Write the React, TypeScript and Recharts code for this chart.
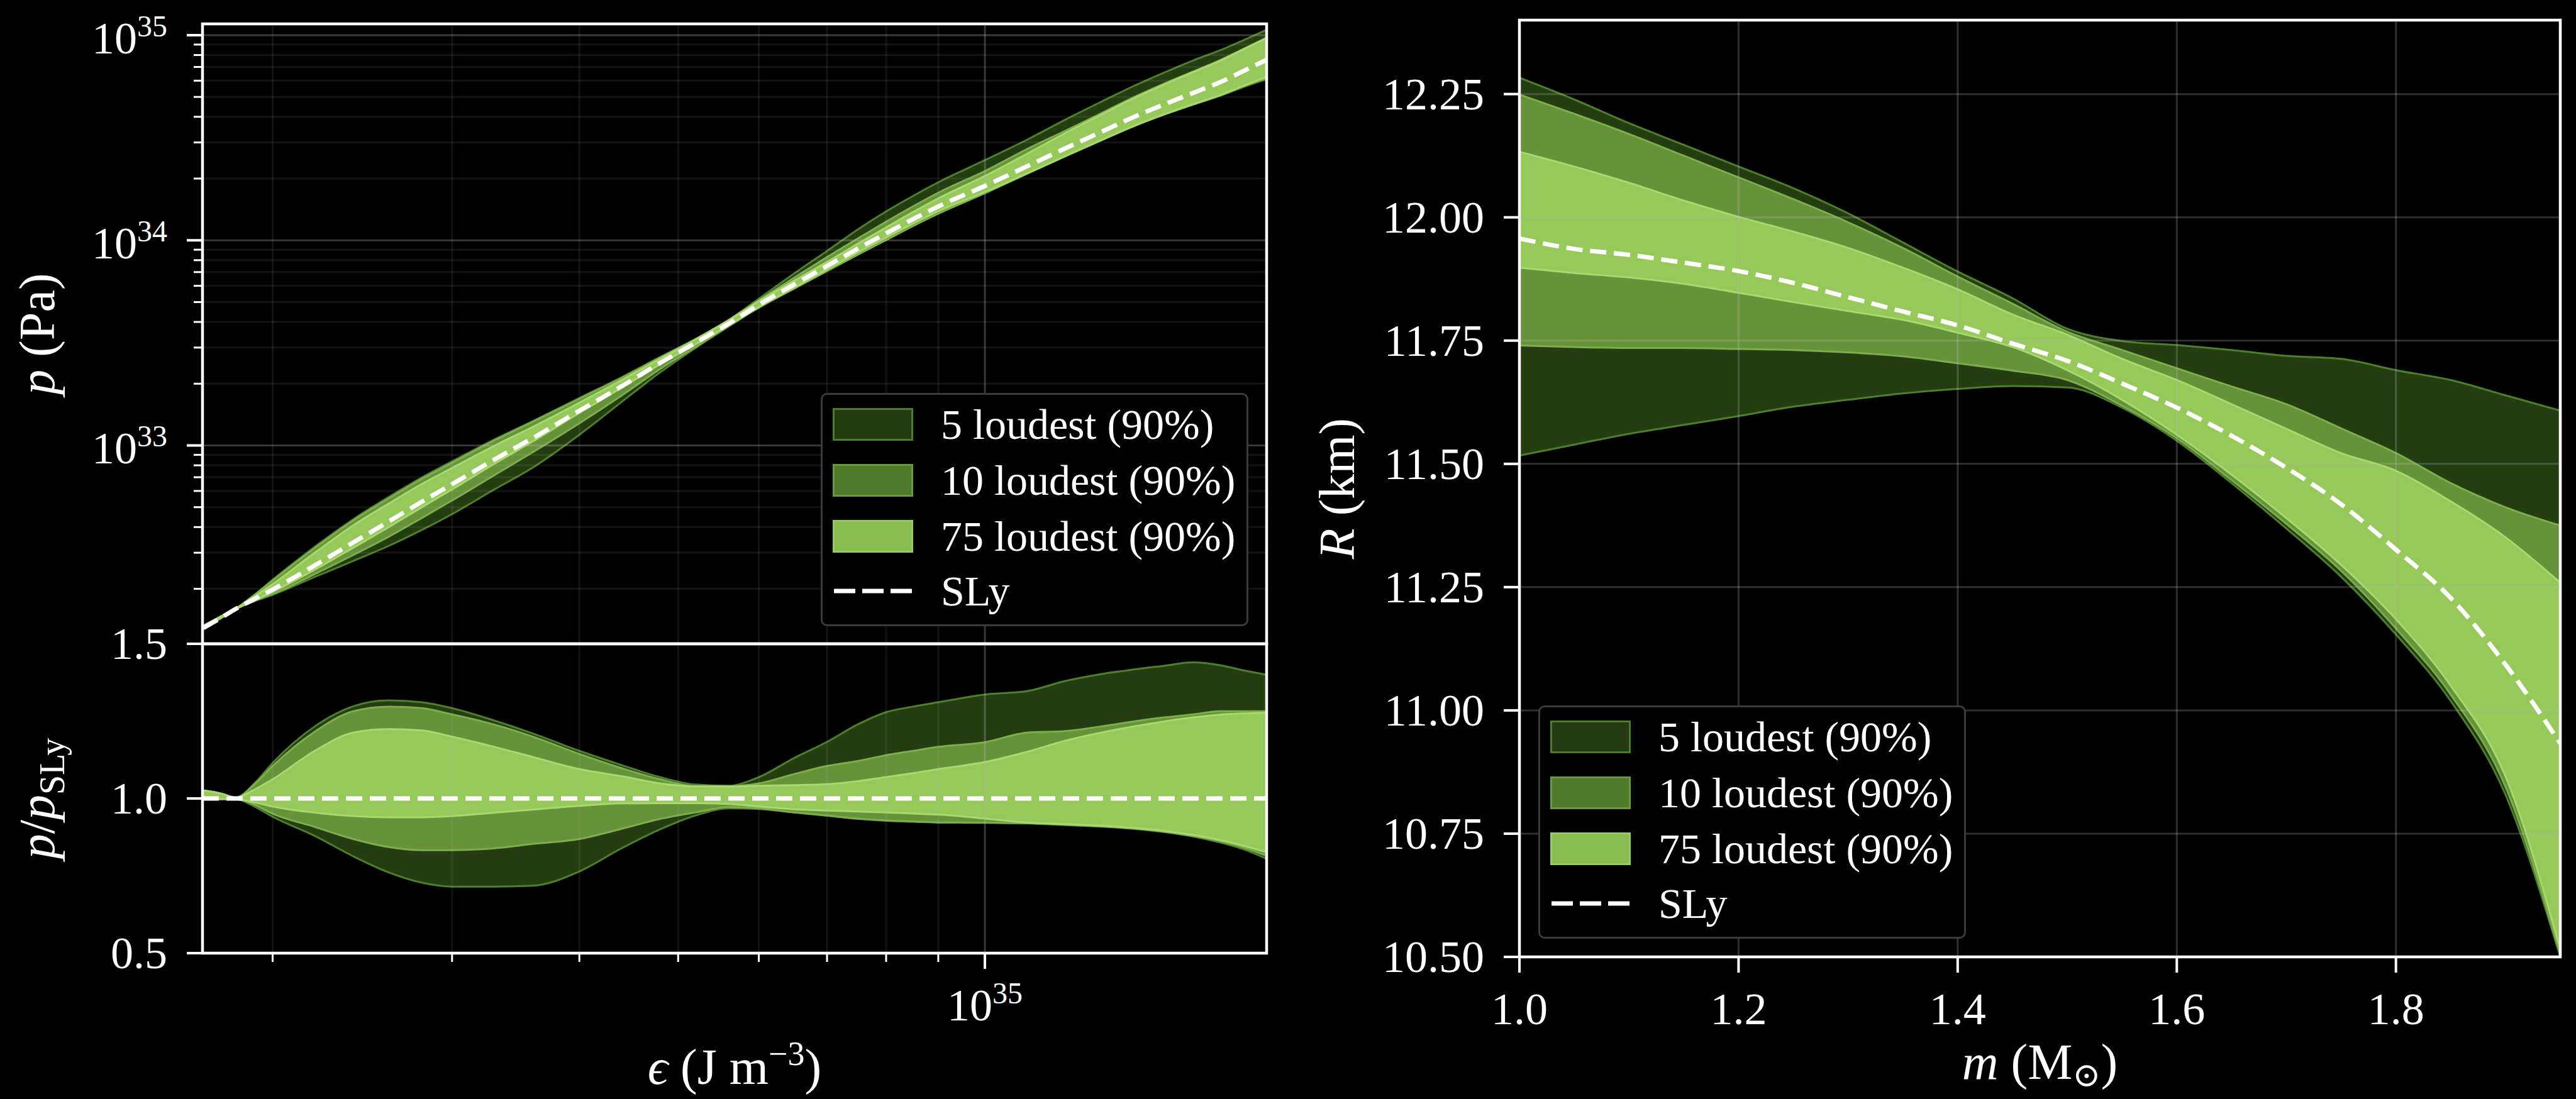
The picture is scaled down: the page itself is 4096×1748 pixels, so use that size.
import React from 'react';
import { ComposedChart, Area, Line, XAxis, YAxis, ReferenceLine, ReferenceArea, Label } from 'recharts';

// ---------- fonts / colours ----------
const FONT = "'Liberation Serif', 'DejaVu Serif', serif";
const BAND5 = { fill: '#243d11', stroke: '#4e7f2a' };
const BAND10 = { fill: '#66923a', stroke: '#7cae4c' };
const BAND75 = { fill: '#97c85a', stroke: '#a8d86e' };
const GRID = '#bbbbbb';

// ---------- EOS panel data (epsilon in units of 1e34 J m^-3) ----------
const epsilon = [1.71, 1.78, 1.84, 1.92, 2.0, 2.2, 2.4, 2.6, 2.8, 3.0, 3.3, 3.6, 4.0, 4.4, 4.8, 5.2, 5.6,
  6.0, 6.5, 7.0, 7.5, 8.0, 8.5, 9.0, 10, 11, 12, 13, 14, 15, 16, 17, 18, 18.9];

// SLy pressure (Pa)
const pSly = [1.288e32, 1.445e32, 1.596e32, 1.786e32, 1.986e32, 2.6e32, 3.365e32, 4.256e32, 5.309e32, 6.471e32,
  8.531e32, 1.086e33, 1.476e33, 1.941e33, 2.523e33, 3.162e33, 3.917e33, 4.853e33, 6.095e33, 7.499e33,
  9.099e33, 1.081e34, 1.268e34, 1.462e34, 1.841e34, 2.296e34, 2.812e34, 3.373e34, 3.99e34, 4.603e34,
  5.224e34, 5.888e34, 6.745e34, 7.586e34];

// p / p_SLy, 90% bounds
const ratioHi5 = [1.026, 1.016, 1.003, 1.049, 1.115, 1.233, 1.298, 1.317, 1.311, 1.292, 1.252, 1.21, 1.154, 1.108,
  1.069, 1.045, 1.041, 1.069, 1.131, 1.183, 1.239, 1.279, 1.297, 1.311, 1.336, 1.347, 1.38, 1.402, 1.417, 1.429,
  1.44, 1.431, 1.413, 1.4];
const ratioLo5 = [1.0, 0.998, 0.998, 0.974, 0.941, 0.879, 0.813, 0.761, 0.728, 0.715, 0.715, 0.718, 0.764, 0.839,
  0.9, 0.945, 0.968, 0.966, 0.955, 0.944, 0.934, 0.928, 0.925, 0.922, 0.921, 0.919, 0.914, 0.909, 0.902, 0.891,
  0.877, 0.858, 0.834, 0.805];
const ratioHi10 = [1.026, 1.016, 1.003, 1.046, 1.105, 1.216, 1.282, 1.297, 1.292, 1.272, 1.239, 1.2, 1.144, 1.098,
  1.062, 1.04, 1.04, 1.049, 1.079, 1.105, 1.121, 1.14, 1.154, 1.167, 1.182, 1.213, 1.218, 1.233, 1.249, 1.262,
  1.272, 1.282, 1.282, 1.282];
const ratioLo10 = [1.0, 0.998, 0.998, 0.98, 0.951, 0.908, 0.869, 0.843, 0.833, 0.833, 0.839, 0.853, 0.869, 0.902,
  0.934, 0.955, 0.972, 0.968, 0.955, 0.945, 0.935, 0.929, 0.926, 0.923, 0.922, 0.92, 0.915, 0.91, 0.903, 0.893,
  0.879, 0.862, 0.84, 0.815];
const ratioHi75 = [1.026, 1.016, 1.003, 1.029, 1.062, 1.154, 1.213, 1.224, 1.22, 1.2, 1.167, 1.134, 1.095, 1.072,
  1.049, 1.039, 1.038, 1.041, 1.043, 1.046, 1.056, 1.069, 1.082, 1.095, 1.118, 1.151, 1.187, 1.213, 1.233, 1.249,
  1.262, 1.271, 1.275, 1.277];
const ratioLo75 = [1.0, 0.998, 0.998, 0.987, 0.974, 0.954, 0.943, 0.939, 0.939, 0.943, 0.954, 0.964, 0.976, 0.984,
  0.985, 0.985, 0.982, 0.974, 0.965, 0.961, 0.958, 0.955, 0.951, 0.948, 0.935, 0.922, 0.917, 0.912, 0.905, 0.895,
  0.882, 0.866, 0.846, 0.826];

// ---------- mass-radius panel data ----------
const mass = [1.0, 1.05, 1.1, 1.15, 1.2, 1.25, 1.3, 1.35, 1.4, 1.45, 1.5, 1.55, 1.6, 1.65, 1.7, 1.75, 1.8, 1.85, 1.9, 1.95];
const radiusSly = [11.957, 11.936, 11.924, 11.908, 11.891, 11.867, 11.838, 11.809, 11.781, 11.744, 11.709, 11.663,
  11.614, 11.557, 11.492, 11.418, 11.326, 11.228, 11.093, 10.933];
const radiusHi5 = [12.283, 12.239, 12.191, 12.147, 12.103, 12.059, 12.008, 11.949, 11.89, 11.836, 11.774, 11.749,
  11.741, 11.731, 11.719, 11.713, 11.69, 11.67, 11.639, 11.608];
const radiusLo5 = [11.517, 11.539, 11.561, 11.579, 11.597, 11.616, 11.63, 11.643, 11.652, 11.658, 11.655, 11.614,
  11.547, 11.461, 11.369, 11.271, 11.154, 11.019, 10.829, 10.5];
const radiusHi10 = [12.249, 12.21, 12.169, 12.125, 12.081, 12.037, 11.99, 11.938, 11.88, 11.825, 11.768, 11.731,
  11.694, 11.657, 11.621, 11.572, 11.522, 11.461, 11.412, 11.375];
const radiusLo10 = [11.74, 11.737, 11.735, 11.735, 11.733, 11.731, 11.726, 11.718, 11.704, 11.689, 11.67, 11.618,
  11.552, 11.467, 11.378, 11.283, 11.166, 11.032, 10.845, 10.505];
const radiusHi75 = [12.133, 12.103, 12.07, 12.034, 12.001, 11.971, 11.938, 11.898, 11.854, 11.803, 11.762, 11.713,
  11.67, 11.621, 11.571, 11.522, 11.486, 11.424, 11.351, 11.259];
const radiusLo75 = [11.898, 11.887, 11.878, 11.865, 11.847, 11.828, 11.81, 11.792, 11.766, 11.737, 11.69, 11.63,
  11.559, 11.478, 11.39, 11.295, 11.185, 11.05, 10.866, 10.516];

// ---------- ticks ----------
const pDecades = [32, 33, 34];
const mantissas = [1, 2, 3, 4, 5, 6, 7, 8, 9];
const pTicks = [...pDecades.flatMap((d) => mantissas.map((m) => m * Math.pow(10, d))), 1e35].filter((v) => v > 1.1e32);
const epsTicks = [...mantissas.slice(1).map((m) => m * 1e34), 1e35];
const ratioTicks = [0.5, 1.0, 1.5];
const massTicks = [1.0, 1.2, 1.4, 1.6, 1.8];
const radiusTicks = [10.5, 10.75, 11.0, 11.25, 11.5, 11.75, 12.0, 12.25];

const EPS_DOMAIN: [number, number] = [1.707e34, 1.89e35];
const P_DOMAIN: [number, number] = [1.079e32, 1.135e35];

const legendLabels = ['5 loudest (90%)', '10 loudest (90%)', '75 loudest (90%)', 'SLy'];

// ---------- derived tables ----------
const ratioData = epsilon.map((e, i) => ({
  eps: e * 1e34,
  b5: [ratioLo5[i], ratioHi5[i]],
  b10: [ratioLo10[i], ratioHi10[i]],
  b75: [ratioLo75[i], ratioHi75[i]],
}));

const pressureData = epsilon.map((e, i) => ({
  eps: e * 1e34,
  b5: [pSly[i] * ratioLo5[i], pSly[i] * ratioHi5[i]],
  b10: [pSly[i] * ratioLo10[i], pSly[i] * ratioHi10[i]],
  b75: [pSly[i] * ratioLo75[i], pSly[i] * ratioHi75[i]],
  sly: pSly[i],
}));

const mrData = mass.map((m, i) => ({
  m,
  b5: [radiusLo5[i], radiusHi5[i]],
  b10: [radiusLo10[i], radiusHi10[i]],
  b75: [radiusLo75[i], radiusHi75[i]],
  sly: radiusSly[i],
}));

const isDecade = (v: number) => {
  const e = Math.round(Math.log10(v));
  return Math.abs(v / Math.pow(10, e) - 1) < 1e-6;
};

// ---------- tick renderers ----------
const PressureTick = (props: any) => {
  const { x, y, payload } = props;
  const major = isDecade(payload.value);
  const exp = Math.round(Math.log10(payload.value));
  return (
    <g>
      <line x1={x} x2={x - (major ? 25 : 14)} y1={y} y2={y} stroke="#fff" strokeWidth={major ? 4 : 3} />
      {major && (
        <text x={x - 56} y={y + 29} textAnchor="end" fill="#fff" fontFamily={FONT} fontSize={72}>
          10<tspan dy={-27} fontSize={48}>{exp}</tspan>
        </text>
      )}
    </g>
  );
};

const EpsTick = (props: any) => {
  const { x, y, payload } = props;
  const major = isDecade(payload.value);
  const exp = Math.round(Math.log10(payload.value));
  return (
    <g>
      <line x1={x} x2={x} y1={y} y2={y + (major ? 25 : 14)} stroke="#fff" strokeWidth={major ? 4 : 3} />
      {major && (
        <text x={x} y={y + 107} textAnchor="middle" fill="#fff" fontFamily={FONT} fontSize={72}>
          10<tspan dy={-27} fontSize={48}>{exp}</tspan>
        </text>
      )}
    </g>
  );
};

const makeYTick = (digits: number) => (props: any) => {
  const { x, y, payload } = props;
  return (
    <g>
      <line x1={x} x2={x - 25} y1={y} y2={y} stroke="#fff" strokeWidth={4} />
      <text x={x - 56} y={y + 24} textAnchor="end" fill="#fff" fontFamily={FONT} fontSize={72}>
        {Number(payload.value).toFixed(digits)}
      </text>
    </g>
  );
};

const MassTick = (props: any) => {
  const { x, y, payload } = props;
  return (
    <g>
      <line x1={x} x2={x} y1={y} y2={y + 25} stroke="#fff" strokeWidth={4} />
      <text x={x} y={y + 107} textAnchor="middle" fill="#fff" fontFamily={FONT} fontSize={72}>
        {Number(payload.value).toFixed(1)}
      </text>
    </g>
  );
};

// ---------- axis titles ----------
const yTitle = (bx: number, children: React.ReactNode) => (props: any) => {
  const vb = props.viewBox || {};
  const cy = vb.y + vb.height / 2;
  return (
    <text transform={`translate(${bx},${cy}) rotate(-90)`} textAnchor="middle" fill="#fff" fontFamily={FONT} fontSize={80}>
      {children}
    </text>
  );
};

const xTitle = (by: number, children: React.ReactNode) => (props: any) => {
  const vb = props.viewBox || {};
  const cx = vb.x + vb.width / 2;
  return (
    <text x={cx} y={by} textAnchor="middle" fill="#fff" fontFamily={FONT} fontSize={80}>
      {children}
    </text>
  );
};

// ---------- legend ----------
const legendSwatches = [
  { fill: '#243b12', stroke: '#4b7c26' },
  { fill: '#4f7a2c', stroke: '#6a9a3e' },
  { fill: '#88bb50', stroke: '#98ca60' },
];
const legendRows = [47, 136, 225, 312];

const BandLegend = ({ left, top }: { left: number; top: number }) => (
  <div
    style={{
      position: 'absolute', left, top, width: 680, height: 371, boxSizing: 'border-box',
      border: '3.5px solid #3a3a3a', borderRadius: 10, background: '#000',
    }}
  >
    {legendLabels.map((label, i) => (
      <div key={label} style={{ position: 'absolute', left: 0, top: legendRows[i] - 35, height: 70, width: '100%' }}>
        <svg style={{ position: 'absolute', left: 16, top: 9 }} width={130} height={52}>
          {i < 3 ? (
            <rect x={1.5} y={1.5} width={125} height={49} fill={legendSwatches[i].fill} stroke={legendSwatches[i].stroke} strokeWidth={3} />
          ) : (
            <line x1={2} x2={128} y1={26} y2={26} stroke="#fff" strokeWidth={7} strokeDasharray="34 11" />
          )}
        </svg>
        <span
          style={{
            position: 'absolute', left: 188, top: 0, lineHeight: '70px', fontSize: 68,
            fontFamily: FONT, color: '#fff', whiteSpace: 'nowrap',
          }}
        >
          {label}
        </span>
      </div>
    ))}
  </div>
);

const bandAreas = () => [
  <Area key="b5" dataKey="b5" type="monotone" fill={BAND5.fill} fillOpacity={1} stroke={BAND5.stroke} strokeWidth={3} dot={false} activeDot={false} isAnimationActive={false} />,
  <Area key="b10" dataKey="b10" type="monotone" fill={BAND10.fill} fillOpacity={1} stroke={BAND10.stroke} strokeWidth={3} dot={false} activeDot={false} isAnimationActive={false} />,
  <Area key="b75" dataKey="b75" type="monotone" fill={BAND75.fill} fillOpacity={1} stroke={BAND75.stroke} strokeWidth={3} dot={false} activeDot={false} isAnimationActive={false} />,
];

export default function App() {
  return (
    <div style={{ position: 'absolute', left: 0, top: 0, width: 4096, height: 1748, background: '#000', overflow: 'hidden' }}>
      {/* pressure vs energy density */}
      <div style={{ position: 'absolute', left: 0, top: 0 }}>
        <ComposedChart width={2060} height={1030} data={pressureData} margin={{ top: 38, right: 46, bottom: 6, left: 0 }}>
          <XAxis dataKey="eps" type="number" scale="log" domain={EPS_DOMAIN} allowDataOverflow hide height={0} />
          <YAxis
            type="number" scale="log" domain={P_DOMAIN} allowDataOverflow ticks={pTicks} interval={0}
            tick={PressureTick} tickSize={0} tickMargin={0} axisLine={false} width={322}
          >
            <Label content={yTitle(86, <><tspan fontStyle="italic">p</tspan> (Pa)</>)} />
          </YAxis>
          {bandAreas()}
          {pTicks.map((v) => (
            <ReferenceLine key={`py${v}`} y={v} stroke={GRID} strokeOpacity={isDecade(v) ? 0.3 : 0.1} strokeWidth={3} />
          ))}
          {epsTicks.map((v) => (
            <ReferenceLine key={`px${v}`} x={v} stroke={GRID} strokeOpacity={isDecade(v) ? 0.3 : 0.1} strokeWidth={3} />
          ))}
          <Line dataKey="sly" type="monotone" stroke="#fff" strokeWidth={7} strokeDasharray="26 12" dot={false} activeDot={false} isAnimationActive={false} />
          <ReferenceArea x1={EPS_DOMAIN[0]} x2={EPS_DOMAIN[1]} y1={P_DOMAIN[0]} y2={P_DOMAIN[1]} fill="none" stroke="#fff" strokeWidth={4.5} fillOpacity={0} />
        </ComposedChart>
      </div>

      {/* ratio to SLy */}
      <div style={{ position: 'absolute', left: 0, top: 950 }}>
        <ComposedChart width={2060} height={798} data={ratioData} margin={{ top: 74, right: 46, bottom: 0, left: 0 }}>
          <XAxis
            dataKey="eps" type="number" scale="log" domain={EPS_DOMAIN} allowDataOverflow ticks={epsTicks} interval={0}
            tick={EpsTick} tickSize={0} tickMargin={0} axisLine={false} height={232}
          >
            <Label content={xTitle(774, <><tspan fontStyle="italic">ϵ</tspan> (J m<tspan dy={-30} fontSize={54}>−3</tspan><tspan dy={30}>)</tspan></>)} />
          </XAxis>
          <YAxis
            type="number" domain={[0.5, 1.5]} allowDataOverflow ticks={ratioTicks} interval={0}
            tick={makeYTick(1)} tickSize={0} tickMargin={0} axisLine={false} width={322}
          >
            <Label content={yTitle(86, <><tspan fontStyle="italic">p</tspan>/<tspan fontStyle="italic">p</tspan><tspan dy={16} fontSize={56}>SLy</tspan></>)} />
          </YAxis>
          {bandAreas()}
          {epsTicks.map((v) => (
            <ReferenceLine key={`rx${v}`} x={v} stroke={GRID} strokeOpacity={isDecade(v) ? 0.3 : 0.1} strokeWidth={3} />
          ))}
          <ReferenceLine y={1} stroke="#fff" strokeWidth={7} strokeDasharray="26 12" />
          <ReferenceArea x1={EPS_DOMAIN[0]} x2={EPS_DOMAIN[1]} y1={0.5} y2={1.5} fill="none" stroke="#fff" strokeWidth={4.5} fillOpacity={0} />
        </ComposedChart>
      </div>

      {/* mass-radius */}
      <div style={{ position: 'absolute', left: 2060, top: 0 }}>
        <ComposedChart width={2036} height={1748} data={mrData} margin={{ top: 32, right: 25, bottom: 0, left: 0 }}>
          <XAxis
            dataKey="m" type="number" domain={[1.0, 1.95]} allowDataOverflow ticks={massTicks} interval={0}
            tick={MassTick} tickSize={0} tickMargin={0} axisLine={false} height={226}
          >
            <Label content={xTitle(1716, <><tspan fontStyle="italic">m</tspan> (M<tspan dy={12} fontSize={54}>⊙</tspan><tspan dy={-12}>)</tspan></>)} />
          </XAxis>
          <YAxis
            type="number" domain={[10.5, 12.4]} allowDataOverflow ticks={radiusTicks} interval={0}
            tick={makeYTick(2)} tickSize={0} tickMargin={0} axisLine={false} width={356}
          >
            <Label content={yTitle(93, <><tspan fontStyle="italic">R</tspan> (km)</>)} />
          </YAxis>
          {bandAreas()}
          {massTicks.filter((v) => v > 1.0).map((v) => (
            <ReferenceLine key={`mx${v}`} x={v} stroke={GRID} strokeOpacity={0.25} strokeWidth={3} />
          ))}
          {radiusTicks.filter((v) => v > 10.5).map((v) => (
            <ReferenceLine key={`ry${v}`} y={v} stroke={GRID} strokeOpacity={0.25} strokeWidth={3} />
          ))}
          <Line dataKey="sly" type="monotone" stroke="#fff" strokeWidth={7} strokeDasharray="26 12" dot={false} activeDot={false} isAnimationActive={false} />
          <ReferenceArea x1={1.0} x2={1.95} y1={10.5} y2={12.4} fill="none" stroke="#fff" strokeWidth={4.5} fillOpacity={0} />
        </ComposedChart>
      </div>

      <BandLegend left={1305} top={625} />
      <BandLegend left={2446} top={1122} />
    </div>
  );
}
